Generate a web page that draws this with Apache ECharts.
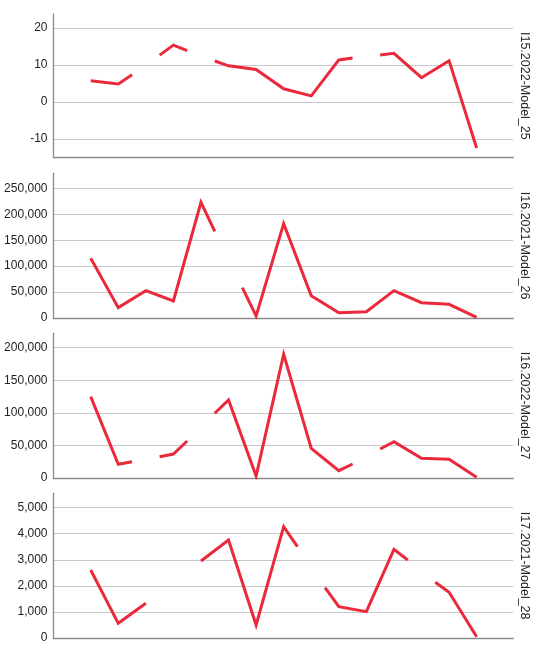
<!DOCTYPE html>
<html>
<head>
<meta charset="utf-8">
<script src="https://cdn.jsdelivr.net/npm/echarts@6/dist/echarts.min.js"></script>
<style>
html,body{margin:0;padding:0;background:#fff;}
#c{width:550px;height:653px;}
</style>
</head>
<body>
<div id="c"></div>
<script>
// Panel titles (right side)
var panelNames = ['I15.2022-Model_25', 'I16.2021-Model_26', 'I16.2022-Model_27', 'I17.2021-Model_28'];

// x positions in period units (null = gap)
var x1 = [0, 1, 1.5, null, 2.5, 3, 3.5, null, 4.5, 5, 6, 7, 8, 9, 9.5, null, 10.5, 11, 12, 13, 14];
var v1 = [5.8, 4.9, 7.4, null, 12.7, 15.4, 13.9, null, 11.1, 9.8, 8.8, 3.6, 1.7, 11.4, 11.9, null, 12.7, 13.2, 6.6, 11.2, -12.4];

var x2 = [0, 1, 2, 3, 4, 4.5, null, 5.5, 6, 7, 8, 9, 10, 11, 12, 13, 14];
var v2 = [115000, 20000, 52700, 32800, 223000, 167000, null, 58500, 3900, 182000, 43000, 10300, 12200, 52700, 29500, 26400, 1300];

var x3 = [0, 1, 1.5, null, 2.5, 3, 3.5, null, 4.5, 5, 6, 7, 8, 9, 9.5, null, 10.5, 11, 12, 13, 14];
var v3 = [124800, 21000, 25000, null, 32700, 36800, 56800, null, 99300, 119700, 3000, 189800, 45500, 11300, 21500, null, 44500, 55700, 30200, 28700, 1000];

var x4 = [0, 1, 2, null, 4, 5, 6, 7, 7.5, null, 8.5, 9, 10, 11, 11.5, null, 12.5, 13, 14];
var v4 = [2609, 563, 1330, null, 2954, 3760, 499, 4271, 3504, null, 1931, 1202, 1010, 3402, 2993, null, 2136, 1753, 50];

// y tick labels
var ticks1 = [-10, 0, 10, 20];
var ticks2 = [0, 50000, 100000, 150000, 200000, 250000];
var ticks3 = [0, 50000, 100000, 150000, 200000];
var ticks4 = [0, 1000, 2000, 3000, 4000, 5000];

var yRanges = [[-15, 23.8], [0, 279000], [0, 222000], [0, 5552]];
var xsAll = [x1, x2, x3, x4];
var vsAll = [v1, v2, v3, v4];
var ticksAll = [ticks1, ticks2, ticks3, ticks4];

var tops = [14, 173.3, 333.3, 493.3];
var heights = [143.7, 144.7, 144.7, 144.7];
var FONT = 'Arial, "Liberation Sans", sans-serif';

var grids = [], xAxes = [], yAxes = [], series = [], graphics = [];
for (var i = 0; i < 4; i++) {
  grids.push({left: 53.5, width: 459.8, top: tops[i], height: heights[i], containLabel: false});
  xAxes.push({
    type: 'value', gridIndex: i, min: -1.35, max: 15.33,
    axisLine: {show: true, onZero: false, lineStyle: {color: '#8a8a8a', width: 1.3}},
    axisTick: {show: false}, axisLabel: {show: false}, splitLine: {show: false}
  });
  yAxes.push({
    type: 'value', gridIndex: i, min: yRanges[i][0], max: yRanges[i][1],
    axisLine: {show: true, onZero: false, lineStyle: {color: '#8a8a8a', width: 1.3}},
    axisTick: {show: false, customValues: ticksAll[i]},
    axisLabel: {show: true, customValues: ticksAll[i], color: '#222', fontSize: 12, fontFamily: FONT, margin: 6,
      formatter: function (v) { return Number(v).toLocaleString('en-US'); }},
    splitLine: {show: true, lineStyle: {color: '#c8c8c8', width: 1.2}}
  });
  var data = xsAll[i].map(function (x, j) {
    var v = vsAll[i][j];
    return (x === null || v === null) ? ['-', '-'] : [x, v];
  });
  series.push({
    type: 'line', xAxisIndex: i, yAxisIndex: i, data: data,
    showSymbol: false, symbol: 'none', connectNulls: false, animation: false,
    lineStyle: {color: '#ea2a3a', width: 3, join: 'miter'}
  });
  graphics.push({
    type: 'text', x: 524, y: tops[i] + heights[i] / 2, rotation: -Math.PI / 2,
    style: {text: panelNames[i], fill: '#222', font: '12.5px ' + FONT, align: 'center', verticalAlign: 'middle'}
  });
}

var chart = echarts.init(document.getElementById('c'), null, {renderer: 'canvas'});
chart.setOption({
  animation: false,
  grid: grids, xAxis: xAxes, yAxis: yAxes, series: series, graphic: graphics
});
</script>
</body>
</html>
